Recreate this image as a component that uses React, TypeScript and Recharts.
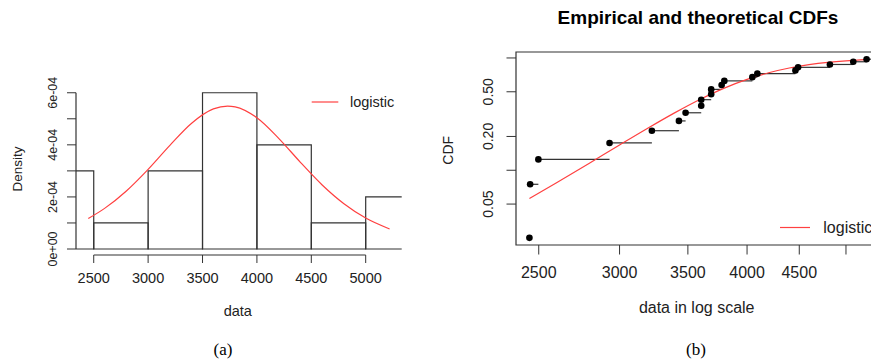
import React from 'react';
import {
  ComposedChart,
  Line,
  Scatter,
  XAxis,
  YAxis,
  ReferenceArea,
  ReferenceLine,
} from 'recharts';

// (a) histogram of the data with the fitted logistic density
const binStarts = [2000, 2500, 3000, 3500, 4000, 4500, 5000];
const binDensity = [3e-4, 1e-4, 3e-4, 6e-4, 4e-4, 1e-4, 2e-4];
const binWidth = 500;

const densityX = [2450, 2600, 2800, 3000, 3200, 3400, 3600, 3730, 3800, 4000, 4200, 4400, 4600, 4800, 5000, 5220];
const densityY = [1.17e-4, 1.56e-4, 2.23e-4, 3.06e-4, 3.98e-4, 4.83e-4, 5.38e-4, 5.49e-4, 5.46e-4, 5.04e-4, 4.25e-4, 3.33e-4, 2.46e-4, 1.74e-4, 1.19e-4, 0.77e-4];

const xTicksA = [2500, 3000, 3500, 4000, 4500, 5000];
const yTicksA = [0, 1e-4, 2e-4, 3e-4, 4e-4, 5e-4, 6e-4];
const yTickLabelsA = ['0e+00', '', '2e-04', '', '4e-04', '', '6e-04'];

// (b) empirical and theoretical CDFs
const sampleX = [2448, 2452, 2498, 2933, 3227, 3430, 3482, 3607, 3607, 3689, 3689, 3777, 3800, 4048, 4094, 4461, 4488, 4822, 5083, 5238];
const sampleP = [0.025, 0.075, 0.125, 0.175, 0.225, 0.275, 0.325, 0.375, 0.425, 0.475, 0.525, 0.575, 0.625, 0.675, 0.725, 0.775, 0.825, 0.875, 0.925, 0.975];

const cdfX = [2448, 2600, 2800, 3000, 3200, 3400, 3600, 3800, 4000, 4200, 4400, 4600, 4800, 5000, 5240];
const cdfY = [0.056, 0.077, 0.115, 0.168, 0.238, 0.326, 0.429, 0.539, 0.644, 0.738, 0.814, 0.871, 0.913, 0.942, 0.965];

const xTicksB = [2500, 3000, 3500, 4000, 4500, 5000];
const xTickLabelsB = ['2500', '3000', '3500', '4000', '4500', ''];
const yTicksB = [0.05, 0.1, 0.2, 0.5, 1.0];
const yTickLabelsB = ['0.05', '', '0.20', '0.50', ''];

const FONT = '"Liberation Sans", Arial, sans-serif';
const INK = '#333';
const TXT = '#222';
const RED = '#ff4040';

const xDomA: [number, number] = [2337, 5331];
const yDomA: [number, number] = [-0.23e-4, 6.24e-4];
const xDomB: [number, number] = [2375, 5399];
const yDomB: [number, number] = [0.0216, 1.13];

const densityData = densityX.map((x, i) => ({ x, y: densityY[i] }));
const sampleData = sampleX.map((x, i) => ({ x, y: sampleP[i] }));
const cdfData = cdfX.map((x, i) => ({ x, y: cdfY[i] }));

const PanelA = () => {
  const xTick = (p: any) => (
    <text x={p.x} y={p.y} dy="0.71em" textAnchor="middle" fontSize={14.5} fill={TXT} fontFamily={FONT}>
      {p.payload.value}
    </text>
  );
  const yTick = (p: any) => {
    const label = yTickLabelsA[yTicksA.indexOf(p.payload.value)] || '';
    return (
      <text transform={`translate(${p.x - 10},${p.y}) rotate(-90)`} textAnchor="middle" fontSize={12.5} fill={TXT} fontFamily={FONT}>
        {label}
      </text>
    );
  };
  return (
    <ComposedChart width={430} height={363} margin={{ top: 86.5, right: 28.3, bottom: 78, left: 36 }}>
      <XAxis
        type="number"
        dataKey="x"
        domain={xDomA}
        allowDataOverflow
        ticks={xTicksA}
        tickSize={8}
        tickMargin={10}
        height={30}
        axisLine={false}
        tickLine={{ stroke: INK }}
        tick={xTick}
      />
      <YAxis
        type="number"
        domain={yDomA}
        allowDataOverflow
        ticks={yTicksA}
        tickSize={9}
        tickMargin={0}
        width={40}
        axisLine={false}
        tickLine={{ stroke: INK }}
        tick={yTick}
      />
      {binStarts.map((b, i) => (
        <ReferenceArea
          key={b}
          x1={b}
          x2={b + binWidth}
          y1={0}
          y2={binDensity[i]}
          ifOverflow="hidden"
          fill="none"
          fillOpacity={0}
          stroke={INK}
          strokeWidth={1.2}
          strokeOpacity={1}
        />
      ))}
      <ReferenceLine segment={[{ x: 2500, y: yDomA[0] }, { x: 5000, y: yDomA[0] }]} stroke={INK} strokeWidth={1.2} ifOverflow="visible" />
      <ReferenceLine segment={[{ x: xDomA[0], y: 0 }, { x: xDomA[0], y: 6e-4 }]} stroke={INK} strokeWidth={1.2} ifOverflow="visible" />
      <Line
        data={densityData}
        dataKey="y"
        type="monotone"
        stroke={RED}
        strokeWidth={1.2}
        dot={false}
        isAnimationActive={false}
      />
      <line x1={311.7} x2={338.3} y1={102} y2={102} stroke={RED} strokeWidth={1.2} />
      <text x={350} y={107} fontSize={14.5} fill={TXT} fontFamily={FONT}>logistic</text>
      <text x={237.8} y={316} textAnchor="middle" fontSize={14.5} fill={TXT} fontFamily={FONT}>data</text>
      <text transform="translate(21.5,169) rotate(-90)" textAnchor="middle" fontSize={13.5} fill={TXT} fontFamily={FONT}>Density</text>
      <text x={223} y={355} textAnchor="middle" fontSize={17} fill="#000" fontFamily='"Liberation Serif", "Times New Roman", serif'>(a)</text>
    </ComposedChart>
  );
};

const PanelB = () => {
  const xTick = (p: any) => (
    <text x={p.x} y={p.y} dy="0.71em" textAnchor="middle" fontSize={16} fill={TXT} fontFamily={FONT}>
      {xTickLabelsB[xTicksB.indexOf(p.payload.value)] || ''}
    </text>
  );
  const yTick = (p: any) => {
    const label = yTickLabelsB[yTicksB.indexOf(p.payload.value)] || '';
    return (
      <text transform={`translate(${p.x - 14},${p.y}) rotate(-90)`} textAnchor="middle" fontSize={14} fill={TXT} fontFamily={FONT}>
        {label}
      </text>
    );
  };
  return (
    <ComposedChart width={460} height={363} margin={{ top: 52, right: 10, bottom: 88, left: 36 }}>
      <XAxis
        type="number"
        dataKey="x"
        scale="log"
        domain={xDomB}
        allowDataOverflow
        ticks={xTicksB}
        tickSize={9.5}
        tickMargin={12}
        height={30}
        axisLine={false}
        tickLine={{ stroke: INK }}
        tick={xTick}
      />
      <YAxis
        type="number"
        dataKey="y"
        scale="log"
        domain={yDomB}
        allowDataOverflow
        ticks={yTicksB}
        tickSize={9.5}
        tickMargin={0}
        width={50}
        axisLine={false}
        tickLine={{ stroke: INK }}
        tick={yTick}
      />
      <ReferenceArea
        x1={xDomB[0]}
        x2={xDomB[1]}
        y1={yDomB[0]}
        y2={yDomB[1]}
        ifOverflow="visible"
        fill="none"
        fillOpacity={0}
        stroke={INK}
        strokeWidth={1.2}
        strokeOpacity={1}
      />
      {sampleX.map((x, i) => (
        <ReferenceLine
          key={i}
          segment={[{ x, y: sampleP[i] }, { x: i < sampleX.length - 1 ? sampleX[i + 1] : xDomB[1], y: sampleP[i] }]}
          stroke={INK}
          strokeWidth={1.2}
          ifOverflow="visible"
        />
      ))}
      <Line
        data={cdfData}
        dataKey="y"
        type="monotone"
        stroke={RED}
        strokeWidth={1.2}
        dot={false}
        isAnimationActive={false}
      />
      <Scatter
        data={sampleData}
        isAnimationActive={false}
        shape={(p: any) => <circle cx={p.cx} cy={p.cy} r={3.3} fill="#000" />}
      />
      <line x1={350} x2={380} y1={227.5} y2={227.5} stroke={RED} strokeWidth={1.2} />
      <text x={393.3} y={233} fontSize={16} fill={TXT} fontFamily={FONT}>logistic</text>
      <text x={268} y={24} textAnchor="middle" fontSize={19} fontWeight="bold" fill="#000" fontFamily={FONT}>
        Empirical and theoretical CDFs
      </text>
      <text x={266.7} y={313} textAnchor="middle" fontSize={16} fill={TXT} fontFamily={FONT}>data in log scale</text>
      <text transform="translate(22.7,150.3) rotate(-90)" textAnchor="middle" fontSize={14} fill={TXT} fontFamily={FONT}>CDF</text>
      <text x={266} y={355} textAnchor="middle" fontSize={17} fill="#000" fontFamily='"Liberation Serif", "Times New Roman", serif'>(b)</text>
    </ComposedChart>
  );
};

export default function App() {
  return (
    <div
      style={{
        position: 'fixed',
        left: 0,
        top: 0,
        width: 871,
        height: 363,
        overflow: 'hidden',
        background: '#fff',
        fontFamily: FONT,
      }}
    >
      <div style={{ position: 'absolute', left: 0, top: 0 }}>
        <PanelA />
      </div>
      <div style={{ position: 'absolute', left: 430, top: 0 }}>
        <PanelB />
      </div>
    </div>
  );
}
